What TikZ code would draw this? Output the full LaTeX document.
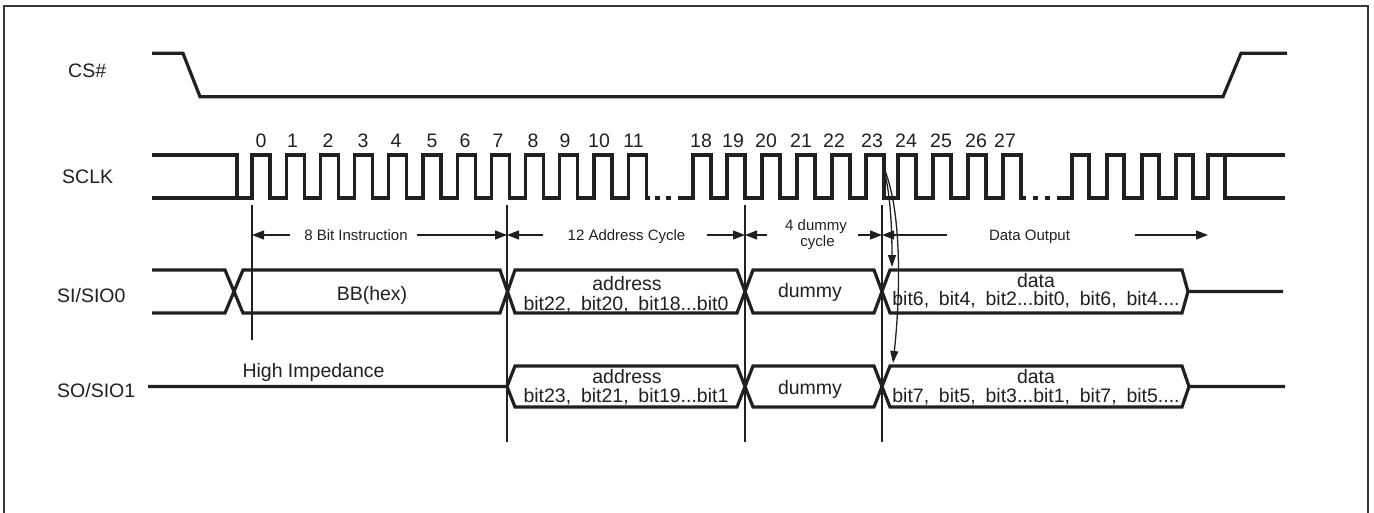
\documentclass[tikz,border=0pt]{standalone}
\usepackage{fontspec}
\setmainfont{Liberation Sans}
\usetikzlibrary{arrows.meta}
\definecolor{ink}{RGB}{35,31,32}
\newcommand\mybigtxt{\fontsize{19.5}{22}\selectfont}
\newcommand\mybitstxt{\fontsize{19.5}{22}\selectfont\spaceskip=0.5em\relax}
\newcommand\mysmalltxt{\fontsize{15}{17}\selectfont}
\begin{document}
\begin{tikzpicture}[x=1pt,y=-1pt,
  sig/.style={line width=3.2pt, draw=ink, line join=miter},
  thinline/.style={line width=1.3pt, draw=ink},
  dimarrow/.style={thinline, -{Triangle[length=12pt,width=9pt]}},
  lbl/.style={font=\mybigtxt, text=ink, inner sep=0pt, anchor=base},
  sidelbl/.style={font=\mybigtxt, text=ink, inner sep=0pt, anchor=base west},
  bits/.style={font=\mybitstxt, text=ink, inner sep=0pt, anchor=base},
  small/.style={font=\mysmalltxt, text=ink, inner sep=0pt, anchor=base},
  num/.style={font=\mybigtxt, text=ink, inner sep=0pt, anchor=base}
]
\useasboundingbox (0,0) rectangle (1374,512);
% frame
\draw[line width=1.8pt, draw=black!78] (3.7,520) -- (3.7,6) -- (1368,6) -- (1368,520);

% signal names
\node[sidelbl] (lcs) at (68,77) {CS\#};
\node[sidelbl] (lclk) at (62,183) {SCLK};
\node[sidelbl] (lsi) at (57,302) {SI/SIO0};
\node[sidelbl] (lso) at (57,397) {SO/SIO1};

% CS#
\draw[sig] (152,53.3) -- (183,53.3) -- (200,96.7) -- (1223,96.7) -- (1241,53.3) -- (1287,53.3);

% SCLK
\draw[sig] (152,198) -- (237,198);
\draw[sig] (152,155) -- (237,155) -- (237,198)
  \foreach \i in {0,...,11} { -- ({252+34.2*\i},198) -- ({252+34.2*\i},155) -- ({270+34.2*\i},155) -- ({270+34.2*\i},198) }
  -- (650,198);
\draw[sig] (655,198) -- (660,198) (666,198) -- (671,198);
\draw[sig] (678,198)
  \foreach \r in {693,727,762,797,832,866,898,933,968,1003} { -- (\r,198) -- (\r,155) -- ({\r+18},155) -- ({\r+18},198) }
  -- (1026,198);
\draw[sig] (1033,198) -- (1038,198) (1045,198) -- (1050,198);
\draw[sig] (1057,198)
  \foreach \r in {1072,1107,1142,1176} { -- (\r,198) -- (\r,155) -- ({\r+17},155) -- ({\r+17},198) }
  -- (1208,198) -- (1208,155) -- (1285,155);
\draw[sig] (1225,155) -- (1225,198) -- (1285,198);

% clock numbers
\foreach \n/\x in {0/261,1/292.5,2/328,3/363,4/396,5/432,6/465,7/498,8/533,9/565,10/599,11/633.5,18/701,19/733,20/766,21/801,22/834,23/872,24/906,25/941,26/976,27/1005}
  \node[num] (c\n) at (\x,147.5) {\n};

% SI/SIO0 bus
\draw[sig] (152,270) -- (225,270) -- (243,313) -- (500,313) -- (515,270) -- (737,270) -- (753,313) -- (874,313) -- (890,270) -- (1182,270) -- (1188,291.5) -- (1283,291.5);
\draw[sig] (152,313) -- (225,313) -- (243,270) -- (500,270) -- (515,313) -- (737,313) -- (753,270) -- (874,270) -- (890,313) -- (1182,313) -- (1188,291.5);

% SO/SIO1 bus
\draw[sig] (148,386.5) -- (507,386.5) -- (515,366) -- (737,366) -- (753,407) -- (874,407) -- (890,366) -- (1182,366) -- (1189,386.5) -- (1285,386.5);
\draw[sig] (507,386.5) -- (515,407) -- (737,407) -- (753,366) -- (874,366) -- (890,407) -- (1182,407) -- (1189,386.5);

% marker lines
\coordinate (m0t) at (252,205);  \coordinate (m0b) at (252,340);
\coordinate (m1t) at (507,205);  \coordinate (m1b) at (507,442);
\coordinate (m2t) at (745,205);  \coordinate (m2b) at (745,442);
\coordinate (m3t) at (882,205);  \coordinate (m3b) at (882,442);
\draw[thinline] (m0t) -- (m0b);
\draw[thinline] (m1t) -- (m1b);
\draw[thinline] (m2t) -- (m2b);
\draw[thinline] (m3t) -- (m3b);

% phase labels and arrows
\node[small] (t8) at (356,240) {8 Bit Instruction};
\node[small] (t12) at (626.5,240) {12 Address Cycle};
\node[small] (t4a) at (816,230) {4 dummy};
\node[small] (t4b) at (817.5,246) {cycle};
\node[small] (tdo) at (1029.5,240) {Data Output};
\coordinate (a0) at (252,235);
\coordinate (a1) at (507,235);
\coordinate (a2) at (745,235);
\coordinate (a3) at (882,235);
\coordinate (a4) at (1208,235);
\draw[dimarrow] (290,235) -- (a0);
\draw[dimarrow] (417,235) -- (a1);
\draw[dimarrow] (543,235) -- (a1);
\draw[dimarrow] (707,235) -- (a2);
\draw[dimarrow] (767,235) -- (a2);
\draw[dimarrow] (858,235) -- (a3);
\draw[dimarrow] (947,235) -- (a3);
\draw[dimarrow] (1135,235) -- (a4);

% output timing arrows
\coordinate (fe) at (883,166);
\coordinate (siin) at (892,267);
\coordinate (soin) at (893,363);
\draw[thinline, -{Triangle[length=12pt,width=8pt]}] (fe) .. controls (890,190) and (892,225) .. (siin);
\draw[thinline, -{Triangle[length=12pt,width=8pt]}] (fe) .. controls (903,210) and (900,300) .. (soin);

% bus contents
\node[lbl] (bb) at (372,300) {BB(hex)};
\node[lbl] (sia) at (627,290) {address};
\node[bits] (sib) at (626,310) {bit22, bit20, bit18...bit0};
\node[lbl] (sid) at (810,297) {dummy};
\node[lbl] (sidat) at (1036,287) {data};
\node[bits] (sidb) at (1036,305) {bit6, bit4, bit2...bit0, bit6, bit4....};
\node[lbl] (hiz) at (313.5,377) {High Impedance};
\node[lbl] (soa) at (627,383) {address};
\node[bits] (sob) at (626,402) {bit23, bit21, bit19...bit1};
\node[lbl] (sod) at (810,394) {dummy};
\node[lbl] (sodat) at (1036,383) {data};
\node[bits] (sodb) at (1036,402) {bit7, bit5, bit3...bit1, bit7, bit5....};
\end{tikzpicture}
\end{document}
